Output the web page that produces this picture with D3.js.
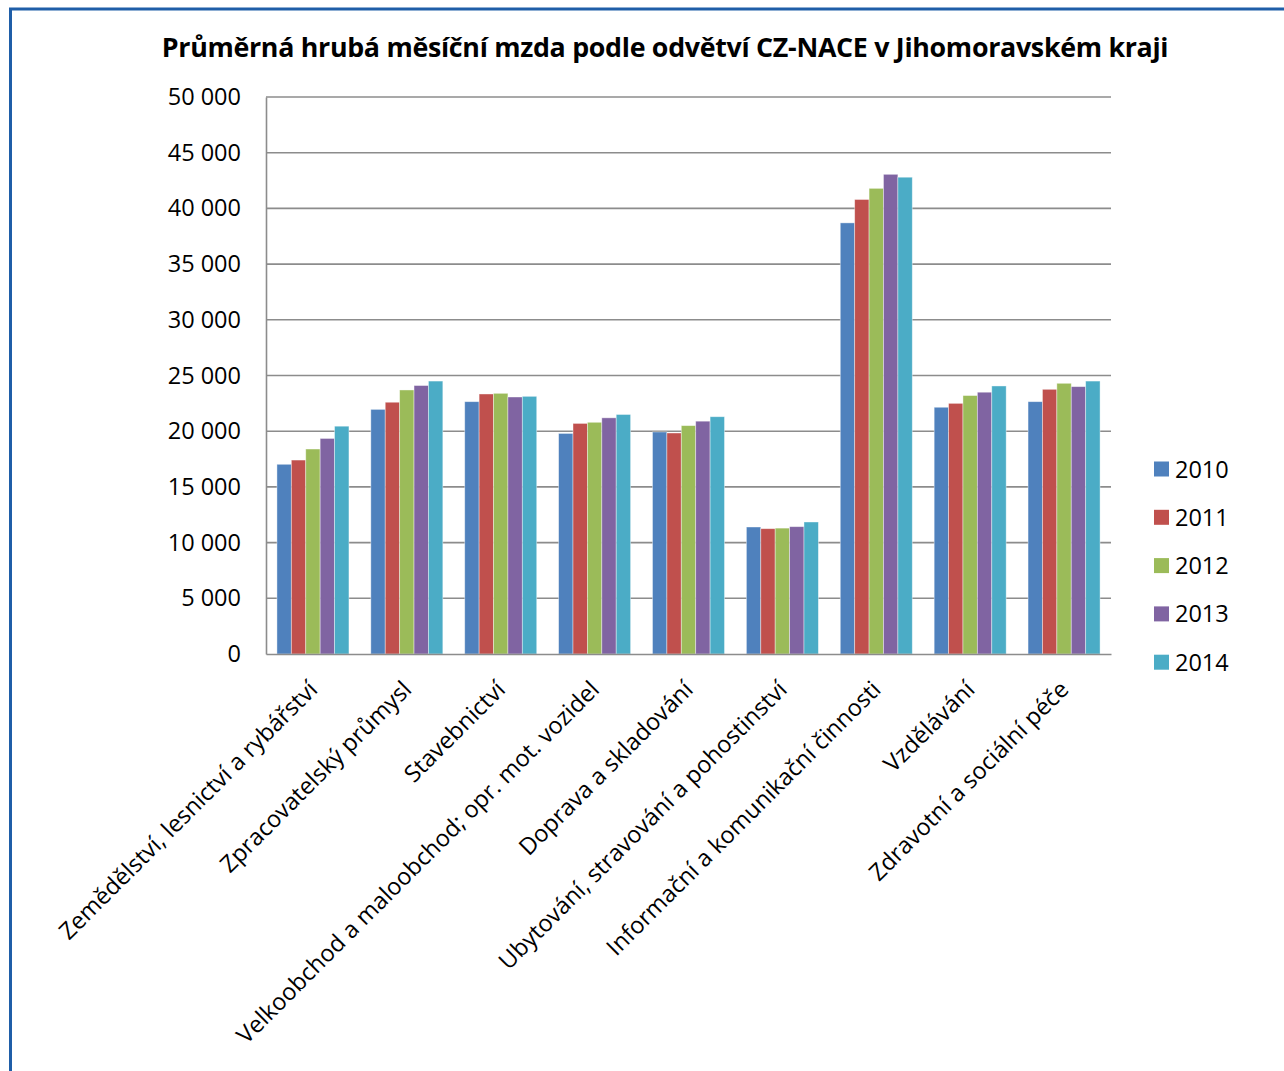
<!DOCTYPE html>
<html>
<head>
<meta charset="utf-8">
<script src="https://cdn.jsdelivr.net/npm/d3@7"></script>
<style>
  body { margin: 0; background: #fff; }
  text { font-family: "Open Sans", "Noto Sans", sans-serif; fill: #000; }
</style>
</head>
<body>
<script>
const categories = [
  "Zemědělství, lesnictví a rybářství",
  "Zpracovatelský průmysl",
  "Stavebnictví",
  "Velkoobchod a maloobchod; opr. mot. vozidel",
  "Doprava a skladování",
  "Ubytování, stravování a pohostinství",
  "Informační a komunikační činnosti",
  "Vzdělávání",
  "Zdravotní a sociální péče"
];
const years = ["2010", "2011", "2012", "2013", "2014"];
const v2010 = [17030, 21960, 22650, 19800, 19930, 11400, 38700, 22150, 22650];
const v2011 = [17410, 22600, 23340, 20700, 19840, 11250, 40800, 22500, 23760];
const v2012 = [18400, 23700, 23400, 20800, 20500, 11300, 41800, 23200, 24300];
const v2013 = [19350, 24100, 23070, 21200, 20900, 11430, 43060, 23500, 24000];
const v2014 = [20450, 24500, 23130, 21500, 21300, 11850, 42800, 24060, 24500];
const yTicks = [0, 5000, 10000, 15000, 20000, 25000, 30000, 35000, 40000, 45000, 50000];
const colors = ["#4f81bd", "#c0504d", "#9bbb59", "#8064a2", "#4bacc6"];

const series = [v2010, v2011, v2012, v2013, v2014];

const w = 1284, h = 1071;
const plotL = 266, plotR = 1111, plotT = 97, plotB = 654;

const svg = d3.select("body").append("svg")
  .attr("width", w)
  .attr("height", h);

// frame (only left and top edges visible)
svg.append("path")
  .attr("d", `M10.5,${h} L10.5,9 L${w},9`)
  .attr("fill", "none")
  .attr("stroke", "#1f5ea8")
  .attr("stroke-width", 3);

svg.append("text")
  .attr("x", 665)
  .attr("y", 57)
  .attr("text-anchor", "middle")
  .style("font-size", "26.8px")
  .style("font-weight", "bold")
  .style("letter-spacing", "-0.3px")
  .text("Průměrná hrubá měsíční mzda podle odvětví CZ-NACE v Jihomoravském kraji");

const y = d3.scaleLinear().domain([0, 50000]).range([plotB, plotT]);
const x0 = d3.scaleBand().domain(categories).range([plotL, plotR])
  .paddingInner(0.233).paddingOuter(0.1165);
const x1 = d3.scaleBand().domain(years).range([0, x0.bandwidth()]);

// gridlines
svg.append("g")
  .selectAll("line")
  .data(yTicks.slice(1))
  .enter()
  .append("line")
  .attr("x1", plotL)
  .attr("x2", plotR)
  .attr("y1", d => y(d))
  .attr("y2", d => y(d))
  .attr("stroke", "#8c8c8c")
  .attr("stroke-width", 1.6);

// bars
const groups = svg.append("g")
  .selectAll("g")
  .data(categories)
  .enter()
  .append("g")
  .attr("transform", d => "translate(" + x0(d) + ",0)");

groups.selectAll("rect")
  .data((c, i) => years.map((yr, j) => ({ yr, j, v: series[j][i] })))
  .enter()
  .append("rect")
  .attr("x", d => x1(d.yr))
  .attr("y", d => y(d.v))
  .attr("width", x1.bandwidth())
  .attr("height", d => plotB - y(d.v))
  .attr("fill", d => colors[d.j])
  .attr("stroke", "rgba(255,255,255,0.5)")
  .attr("stroke-width", 0.8);

// y axis
const yAxis = d3.axisLeft(y)
  .tickValues(yTicks)
  .tickSize(0)
  .tickPadding(25)
  .tickFormat(d => d3.format(",")(d).replace(/,/g, " "));

const ya = svg.append("g")
  .attr("transform", "translate(" + plotL + ",0)")
  .call(yAxis);
ya.select(".domain").attr("stroke", "#8c8c8c").attr("stroke-width", 1.6);
ya.selectAll("text")
  .style("font-size", "23.5px")
  .style("font-family", "'Open Sans', sans-serif")
  .attr("fill", "#000");

// x axis
const xAxis = d3.axisBottom(x0).tickSize(0).tickPadding(0);
const xa = svg.append("g")
  .attr("transform", "translate(0," + plotB + ")")
  .call(xAxis);
xa.select(".domain").attr("stroke", "#8c8c8c").attr("stroke-width", 1.6);
xa.selectAll("text")
  .style("font-size", "23.5px")
  .style("font-family", "'Open Sans', sans-serif")
  .attr("fill", "#000")
  .attr("text-anchor", "end")
  .attr("dy", "0")
  .attr("transform", "translate(6,37) rotate(-45)");

// legend
const legend = svg.append("g").attr("transform", "translate(1154,469)");
years.forEach((yr, j) => {
  legend.append("rect")
    .attr("x", 0)
    .attr("y", j * 48.3 - 7.5)
    .attr("width", 15)
    .attr("height", 15)
    .attr("fill", colors[j]);
  legend.append("text")
    .attr("x", 21)
    .attr("y", j * 48.3 + 8.5)
    .style("font-size", "23.5px")
    .text(yr);
});
</script>
</body>
</html>
